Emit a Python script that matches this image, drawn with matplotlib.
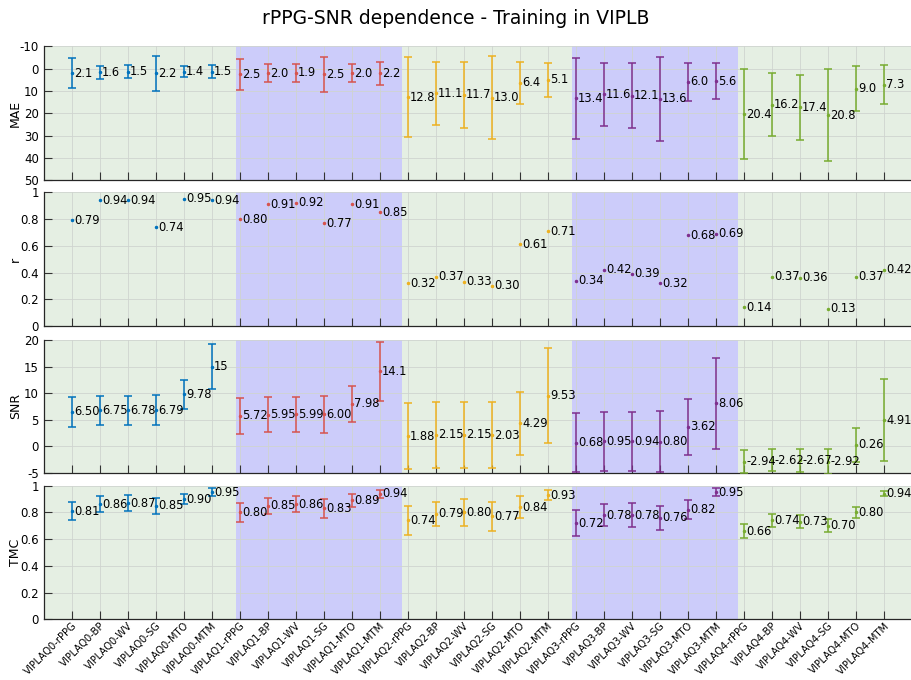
import matplotlib.pyplot as plt
import numpy as np

plt.rcParams['axes.unicode_minus'] = False

groups = ['VIPLAQ0', 'VIPLAQ1', 'VIPLAQ2', 'VIPLAQ3', 'VIPLAQ4']
methods = ['rPPG', 'BP', 'WV', 'SG', 'MTO', 'MTM']
colors = ['#0072BD', '#D6534F', '#EDB120', '#7E2F8E', '#77AC30']

mae = [[2.1, 1.6, 1.5, 2.2, 1.4, 1.5],
       [2.5, 2.0, 1.9, 2.5, 2.0, 2.2],
       [12.8, 11.1, 11.7, 13.0, 6.4, 5.1],
       [13.4, 11.6, 12.1, 13.6, 6.0, 5.6],
       [20.4, 16.2, 17.4, 20.8, 9.0, 7.3]]
mae_err = [[6.8, 2.9, 2.9, 7.8, 2.5, 2.9],
           [7.0, 4.2, 4.1, 7.9, 4.2, 5.3],
           [18.0, 14.0, 14.7, 18.7, 9.4, 7.7],
           [18.3, 14.2, 14.6, 18.9, 8.4, 8.2],
           [20.2, 14.0, 14.7, 20.8, 10.0, 8.7]]

r = [[0.79, 0.94, 0.94, 0.74, 0.95, 0.94],
     [0.80, 0.91, 0.92, 0.77, 0.91, 0.85],
     [0.32, 0.37, 0.33, 0.30, 0.61, 0.71],
     [0.34, 0.42, 0.39, 0.32, 0.68, 0.69],
     [0.14, 0.37, 0.36, 0.13, 0.37, 0.42]]

snr = [[6.50, 6.75, 6.78, 6.79, 9.78, 15.0],
       [5.72, 5.95, 5.99, 6.00, 7.98, 14.1],
       [1.88, 2.15, 2.15, 2.03, 4.29, 9.53],
       [0.68, 0.95, 0.94, 0.80, 3.62, 8.06],
       [-2.94, -2.62, -2.67, -2.92, 0.26, 4.91]]
snr_err = [[2.8, 2.7, 2.7, 2.85, 2.77, 4.25],
           [3.35, 3.36, 3.3, 3.45, 3.4, 5.5],
           [6.25, 6.25, 6.2, 6.2, 6.0, 8.9],
           [5.6, 5.55, 5.55, 5.75, 5.2, 8.6],
           [2.2, 2.15, 2.2, 2.3, 3.2, 7.8]]

tmc = [[0.81, 0.86, 0.87, 0.85, 0.90, 0.95],
       [0.80, 0.85, 0.86, 0.83, 0.89, 0.94],
       [0.74, 0.79, 0.80, 0.77, 0.84, 0.93],
       [0.72, 0.78, 0.78, 0.76, 0.82, 0.95],
       [0.66, 0.74, 0.73, 0.70, 0.80, 0.94]]
tmc_err = [[0.07, 0.06, 0.06, 0.06, 0.04, 0.03],
           [0.07, 0.06, 0.06, 0.07, 0.05, 0.03],
           [0.11, 0.09, 0.10, 0.11, 0.08, 0.04],
           [0.10, 0.08, 0.09, 0.09, 0.07, 0.03],
           [0.05, 0.05, 0.05, 0.05, 0.04, 0.02]]

labels = [g + '-' + m for g in groups for m in methods]
x = np.arange(1, len(labels) + 1)

green_bg = '#e5efe3'
lav_bg = '#ccccfa'

fig = plt.figure(figsize=(9.12, 6.8), dpi=100)
rects = [[0.048, 0.735, 0.952, 0.197],
         [0.048, 0.5206, 0.952, 0.1966],
         [0.048, 0.3049, 0.952, 0.195],
         [0.048, 0.0893, 0.952, 0.1965]]
axes = [fig.add_axes(rc) for rc in rects]


def snr_fmt(v):
    return '%.3g' % v if abs(v) >= 10 else '%.2f' % v


panels = [('MAE', mae, mae_err, lambda v: '%.1f' % v, (50, -10), np.arange(-10, 51, 10)),
          ('r', r, None, lambda v: '%.2f' % v, (0, 1), np.arange(0, 1.01, 0.2)),
          ('SNR', snr, snr_err, snr_fmt, (-5, 20), np.arange(-5, 21, 5)),
          ('TMC', tmc, tmc_err, lambda v: '%.2f' % v, (0, 1), np.arange(0, 1.01, 0.2))]

for ax, (name, vals, errs, fmt, ylim, yt) in zip(axes, panels):
    ax.set_facecolor(green_bg)
    ax.axvspan(6.85, 12.78, color=lav_bg, lw=0, zorder=0.5)
    ax.axvspan(18.85, 24.8, color=lav_bg, lw=0, zorder=0.5)
    for gi in range(len(groups)):
        xs = x[gi * 6:(gi + 1) * 6]
        if errs is None:
            ax.plot(xs, vals[gi], '.', color=colors[gi], ms=3, zorder=3)
        else:
            ax.errorbar(xs, vals[gi], yerr=errs[gi], fmt='.', ms=3, color=colors[gi],
                        elinewidth=1.1, capsize=3.2, capthick=1.1, zorder=3)
        for xi, v in zip(xs, vals[gi]):
            ax.text(xi + 0.08, v, fmt(v), fontsize=8.3, va='center', ha='left', zorder=4,
                    clip_on=False)
    ax.set_xlim(0, 31)
    ax.set_ylim(*ylim)
    ax.set_yticks(yt)
    if name in ('r', 'TMC'):
        ax.set_yticklabels(['0', '0.2', '0.4', '0.6', '0.8', '1'])
    ax.set_xticks(x)
    ax.grid(True, color='#cfd4cf', lw=0.6, zorder=1)
    ax.set_axisbelow(True)
    ax.tick_params(direction='in', length=6, width=0.8, labelsize=8.5, color='#333333')
    ax.tick_params(axis='x', pad=1)
    for s in ['top', 'right']:
        ax.spines[s].set_visible(False)
    for s in ['left', 'bottom']:
        ax.spines[s].set_color('#262626')
        ax.spines[s].set_linewidth(0.9)
    ax.set_ylabel(name, fontsize=9)
    ax.yaxis.set_label_coords(-0.025, 0.5)
    if ax is axes[-1]:
        ax.set_xticklabels(labels, rotation=45, ha='right', rotation_mode='anchor', fontsize=7.2)
    else:
        ax.set_xticklabels([])

fig.suptitle('rPPG-SNR dependence - Training in VIPLB', fontsize=13.5, y=0.987)
fig.savefig('out.png', dpi=100)
